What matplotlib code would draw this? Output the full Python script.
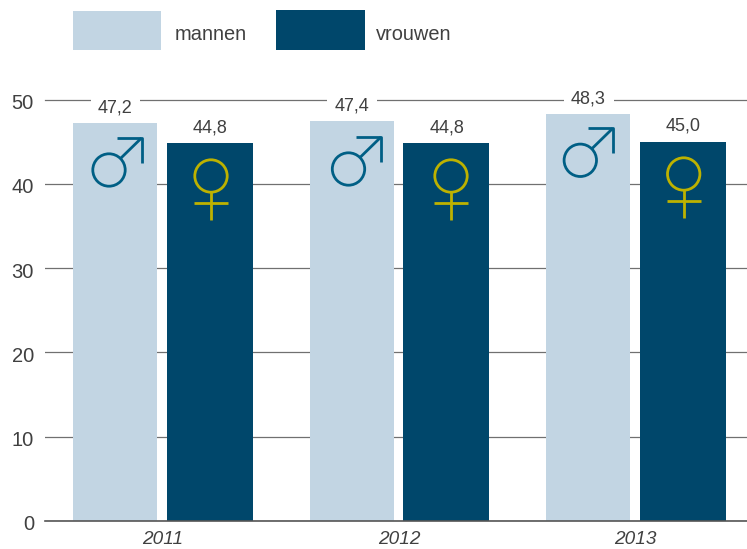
import matplotlib
matplotlib.use("Agg")
import matplotlib.pyplot as plt
from matplotlib.patches import Circle, Rectangle
from matplotlib.transforms import Affine2D
import numpy as np

# data
jaren = ["2011", "2012", "2013"]
mannen = [47.2, 47.4, 48.3]
vrouwen = [44.8, 44.8, 45.0]
mannen_txt = ["47,2", "47,4", "48,3"]
vrouwen_txt = ["44,8", "44,8", "45,0"]
y_ticks = [0, 10, 20, 30, 40, 50]

LICHT = "#C2D5E3"
DONKER = "#00476B"
BLAUW = "#005F85"
GEEL = "#BDB200"
TEKST = "#404040"
GRIJS = "#707070"

plt.rcParams["font.family"] = ["Liberation Sans", "DejaVu Sans"]

W, H = 747, 549
fig = plt.figure(figsize=(W / 100, H / 100), dpi=100)
ax = fig.add_axes([45 / W, (H - 521) / H, (W - 45) / W, (521 - 99.5) / H])

# pixels van de referentie (y naar beneden)
px = Affine2D().scale(1, -1).translate(0, H)

x = np.arange(len(jaren))
ax.bar(x - 0.201, mannen, width=0.355, color=LICHT, zorder=2)
ax.bar(x + 0.199, vrouwen, width=0.364, color=DONKER, zorder=2)

ax.set_xlim(-0.498, 2.47)
ax.set_ylim(0, 50)
ax.set_yticks(y_ticks)
ax.set_xticks(x)
ax.set_xticklabels(jaren, fontsize=13.7, style="italic", color=TEKST)
ax.tick_params(axis="y", length=0, pad=8, labelsize=14.5, labelcolor=TEKST)
ax.tick_params(axis="x", length=0, pad=7)
ax.set_axisbelow(True)
ax.grid(axis="y", color=GRIJS, lw=0.9)
for s in ["top", "right", "left"]:
    ax.spines[s].set_visible(False)
ax.spines["bottom"].set_color("#555555")
ax.spines["bottom"].set_linewidth(1.2)
ax.spines["bottom"].set_zorder(3)
ax.yaxis.get_gridlines()[-1].set_clip_on(False)
for lbl in ax.get_yticklabels():
    lbl.set_transform(lbl.get_transform() + Affine2D().translate(0, -2))

# waardelabels, het witte vlak ligt onder de balken maar boven de lijnen
for i in x:
    ax.annotate(mannen_txt[i], (i - 0.2, mannen[i]), xytext=(0, 11), textcoords="offset points",
                ha="center", va="center", fontsize=13, color=TEKST, zorder=1.5,
                bbox=dict(fc="white", ec="none", boxstyle="square,pad=0.42"))
    ax.annotate(vrouwen_txt[i], (i + 0.2, vrouwen[i]), xytext=(0, 11), textcoords="offset points",
                ha="center", va="center", fontsize=13, color=TEKST, zorder=5)

# legenda
fig.add_artist(Rectangle((73, 11), 88, 38.5, transform=px, fc=LICHT, ec="none"))
fig.add_artist(Rectangle((276, 10), 89, 40, transform=px, fc=DONKER, ec="none"))
fig.text(175, 35, "mannen", fontsize=14.4, color=TEKST, va="center", transform=px)
fig.text(376, 35, "vrouwen", fontsize=14.4, color=TEKST, va="center", transform=px)


def lijn(xs, ys, kleur):
    ax.plot(xs, ys, color=kleur, lw=2.0, transform=px, clip_on=False, zorder=6, solid_capstyle="butt")


def man(cx, cy):
    ax.add_patch(Circle((cx, cy), 16.2, transform=px, fc="none", ec=BLAUW, lw=2.0, clip_on=False, zorder=6))
    lijn([cx + 12, cx + 32.5], [cy - 12, cy - 32], BLAUW)
    lijn([cx + 7.5, cx + 32.7, cx + 32.7], [cy - 32.3, cy - 32.3, cy - 7.5], BLAUW)


def vrouw(cx, cy):
    ax.add_patch(Circle((cx, cy), 16.2, transform=px, fc="none", ec=GEEL, lw=2.0, clip_on=False, zorder=6))
    lijn([cx, cx], [cy + 16, cy + 44], GEEL)
    lijn([cx - 17, cx + 17], [cy + 27.3, cy + 27.3], GEEL)


man(109, 170)
man(348.5, 169)
man(580.3, 160.3)
vrouw(211, 176)
vrouw(451, 176)
vrouw(683.7, 174)

fig.savefig("out.png", dpi=100)
